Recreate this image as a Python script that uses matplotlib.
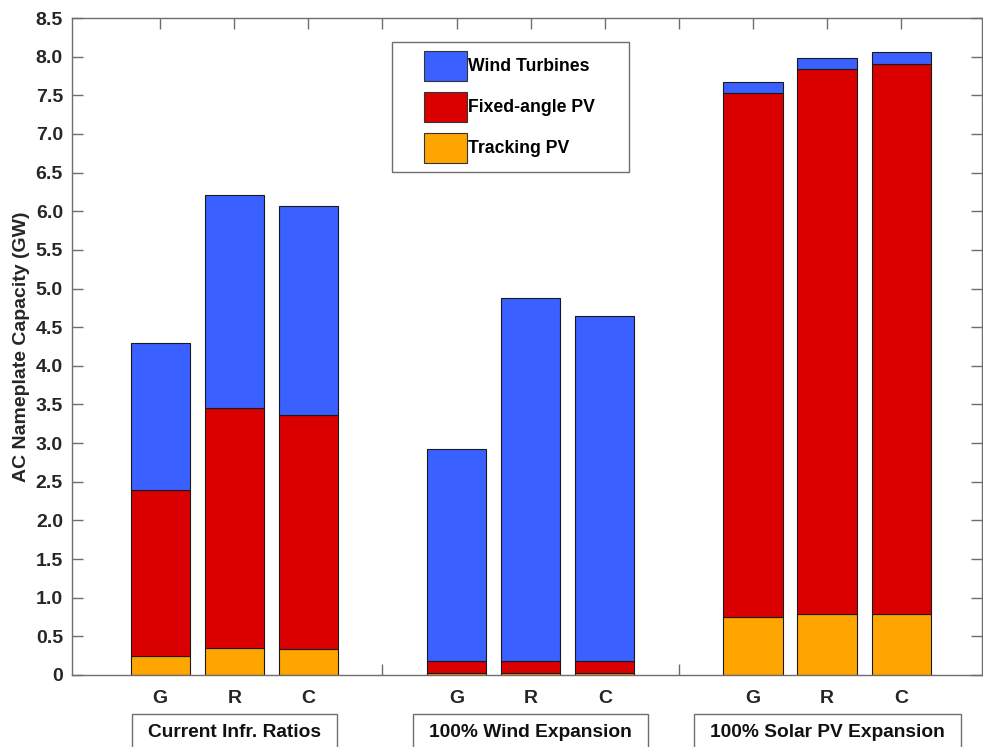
import numpy as np
import matplotlib
matplotlib.use('Agg')
import matplotlib.pyplot as plt
import matplotlib.transforms as mtransforms
from matplotlib.patches import Rectangle

matplotlib.rcParams['font.family'] = ['Liberation Sans', 'DejaVu Sans']
matplotlib.rcParams['font.weight'] = 'bold'

# bar positions: three scenarios, each with G / R / C
positions = [1, 2, 3, 5, 6, 7, 9, 10, 11]
cases = ['G', 'R', 'C'] * 3
scenarios = ['Current Infr. Ratios', '100% Wind Expansion', '100% Solar PV Expansion']
scenario_centers = [2, 6, 10]

# capacities in GW
tracking_pv = [0.24, 0.35, 0.33, 0.02, 0.02, 0.02, 0.755, 0.785, 0.79]
fixed_pv = [2.15, 3.10, 3.04, 0.165, 0.165, 0.165, 6.775, 7.055, 7.12]
wind = [1.91, 2.76, 2.70, 2.735, 4.695, 4.465, 0.14, 0.14, 0.15]

c_wind = '#3A60FF'
c_fixed = '#DA0000'
c_track = '#FFA500'
spine_c = '#6e6e6e'
fs = 14

fig = plt.figure(figsize=(9.83, 7.47), dpi=100)
ax = fig.add_axes([0.0732, 0.0964, 0.9258, 0.8795])

w = 0.8
ec = '#1a1a1a'
b1 = ax.bar(positions, tracking_pv, w, color=c_track, edgecolor=ec, linewidth=0.8, zorder=2)
b2 = ax.bar(positions, fixed_pv, w, bottom=tracking_pv, color=c_fixed, edgecolor=ec, linewidth=0.8, zorder=2)
base = np.array(tracking_pv) + np.array(fixed_pv)
b3 = ax.bar(positions, wind, w, bottom=base, color=c_wind, edgecolor=ec, linewidth=0.8, zorder=2)

ax.set_xlim(-0.19, 12.09)
ax.set_ylim(0, 8.5)
yt = np.arange(0, 8.51, 0.5)
ax.set_yticks(yt)
ax.set_yticklabels(['0'] + ['%.1f' % v for v in yt[1:]])

# ticks at every integer, labelled only where a bar sits
xt = np.arange(1, 12)
xlabels = ['' for _ in xt]
for p, c in zip(positions, cases):
    xlabels[p - 1] = c
ax.set_xticks(xt)
ax.set_xticklabels(xlabels)

for s in ax.spines.values():
    s.set_color(spine_c)
    s.set_linewidth(1.0)
ax.tick_params(axis='both', direction='in', length=8, width=1.0, color=spine_c,
               top=True, right=True, labelsize=fs, labelcolor='#262626')
ax.tick_params(axis='x', pad=10.5)
ax.tick_params(axis='y', pad=6.5)
for lab in ax.get_xticklabels() + ax.get_yticklabels():
    lab.set_fontweight('bold')

ax.set_ylabel('AC Nameplate Capacity (GW)', fontsize=fs, fontweight='bold', color='#262626', labelpad=4)

# legend content; the frame is drawn separately with wider side margins
leg_fs = 12.7
leg_px = leg_fs * 100 / 72
leg = ax.legend([b3, b2, b1], ['Wind Turbines', 'Fixed-angle PV', 'Tracking PV'],
                loc='upper left', bbox_to_anchor=(0.3868, 0.9498), frameon=False,
                handlelength=43 / leg_px, handleheight=2.24, labelspacing=11 / leg_px,
                handletextpad=0.08, borderpad=0, borderaxespad=0,
                prop={'size': leg_fs, 'weight': 'bold'})
for h in leg.legend_handles:
    h.set_edgecolor('#333333')
    h.set_linewidth(0.8)

# scenario names under the G/R/C labels
trans = mtransforms.blended_transform_factory(ax.transData, ax.transAxes)
group_texts = []
for cx, name in zip(scenario_centers, scenarios):
    t = ax.text(cx, -0.0944, name, transform=trans, ha='center', va='baseline',
                fontsize=13.8, fontweight='bold', color='#111111', clip_on=False)
    group_texts.append(t)

fig.canvas.draw()
renderer = fig.canvas.get_renderer()
ident = mtransforms.IdentityTransform()

lb = leg.get_window_extent(renderer)
frame = Rectangle((lb.x0 - 32, lb.y0 - 9), lb.width + 66, lb.height + 18,
                  transform=ident, facecolor='white', edgecolor=spine_c,
                  linewidth=1.0, zorder=4, clip_on=False)
ax.add_artist(frame)
leg.set_zorder(5)

for t in group_texts:
    tb = t.get_window_extent(renderer)
    box = Rectangle((tb.x0 - 16, -10), tb.width + 32, tb.y1 + 10 + 10,
                    transform=ident, facecolor='none', edgecolor=spine_c,
                    linewidth=1.0, clip_on=False)
    fig.add_artist(box)

fig.savefig('out.png', dpi=100)
